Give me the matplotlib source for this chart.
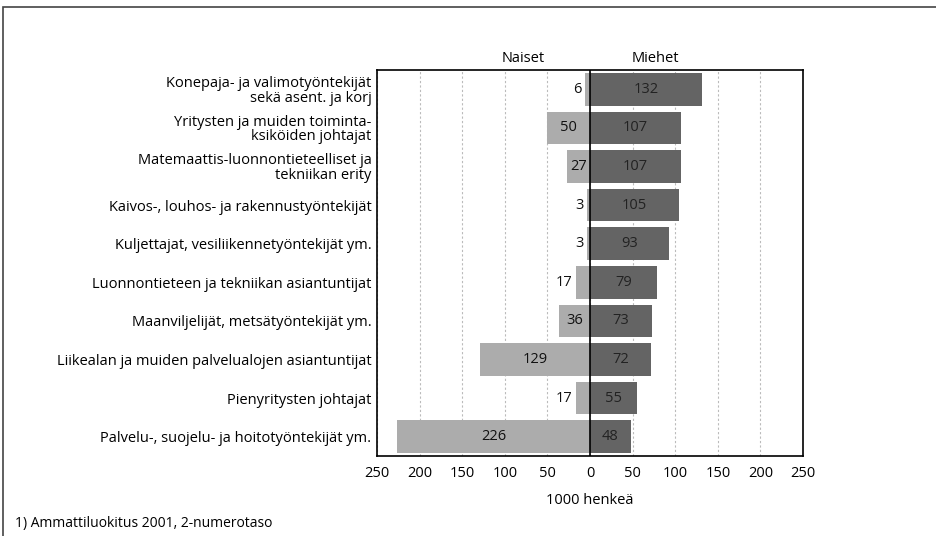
import matplotlib.pyplot as plt
from matplotlib.patches import Rectangle

plt.rcParams['font.family'] = ['Open Sans', 'DejaVu Sans']

# data
categories = [
    "Konepaja- ja valimotyöntekijät\nsekä asent. ja korj",
    "Yritysten ja muiden toiminta-\nksiköiden johtajat",
    "Matemaattis-luonnontieteelliset ja\ntekniikan erity",
    "Kaivos-, louhos- ja rakennustyöntekijät",
    "Kuljettajat, vesiliikennetyöntekijät ym.",
    "Luonnontieteen ja tekniikan asiantuntijat",
    "Maanviljelijät, metsätyöntekijät ym.",
    "Liikealan ja muiden palvelualojen asiantuntijat",
    "Pienyritysten johtajat",
    "Palvelu-, suojelu- ja hoitotyöntekijät ym.",
]
naiset = [6, 50, 27, 3, 3, 17, 36, 129, 17, 226]
miehet = [132, 107, 107, 105, 93, 79, 73, 72, 55, 48]
ticks = [-250, -200, -150, -100, -50, 0, 50, 100, 150, 200, 250]

fig = plt.figure(figsize=(9.37, 5.36), dpi=100)
W, H = 937, 536
ax = fig.add_axes([377 / W, 1 - 456 / H, (803 - 377) / W, (456 - 70) / H])

y = list(range(len(categories)))
ax.barh(y, [-v for v in naiset], height=0.84, color='#acacac', zorder=2)
ax.barh(y, miehet, height=0.84, color='#646464', zorder=2)
ax.axvline(0, color='black', lw=1.2, zorder=3)

# value labels
for i, (n, m) in enumerate(zip(naiset, miehet)):
    ax.text(m / 2, i, str(m), ha='center', va='center', fontsize=10.5, color='#222222', zorder=4)
    if n >= 20:
        ax.text(-n / 2, i, str(n), ha='center', va='center', fontsize=10.5, color='#111111', zorder=4)
    else:
        ax.text(-n - 4, i, str(n), ha='right', va='center', fontsize=10.5, color='#111111', zorder=4)

ax.set_xlim(-250, 250)
ax.set_ylim(len(categories) - 0.5, -0.5)
ax.set_xticks(ticks)
ax.set_xticklabels([str(abs(t)) for t in ticks], fontsize=10.5)
ax.set_yticks(y)
ax.set_yticklabels(categories, fontsize=10.5, linespacing=0.95)
ax.tick_params(length=0, pad=4)
ax.tick_params(axis='x', pad=7)
for t in ax.get_yticklabels():
    t.set_multialignment('right')
ax.grid(axis='x', color='#bbbbbb', linestyle=(0, (2, 2)), lw=0.8, zorder=0)
for s in ax.spines.values():
    s.set_linewidth(1.2)

ax.set_xlabel("1000 henkeä", fontsize=10.5, labelpad=9)
fig.text(523 / W, 1 - 58 / H, "Naiset", ha='center', va='center', fontsize=10.5)
fig.text(655 / W, 1 - 58 / H, "Miehet", ha='center', va='center', fontsize=10.5)
fig.text(15 / W, 1 - 523 / H, "1) Ammattiluokitus 2001, 2-numerotaso", ha='left', va='center', fontsize=10)

# outer frame
fig.patches.append(Rectangle((3 / W, -0.05), 1.2, 1 - 7 / H + 0.05, transform=fig.transFigure,
                             fill=False, edgecolor='#444444', lw=1.2))

fig.savefig("out.png", dpi=100)
